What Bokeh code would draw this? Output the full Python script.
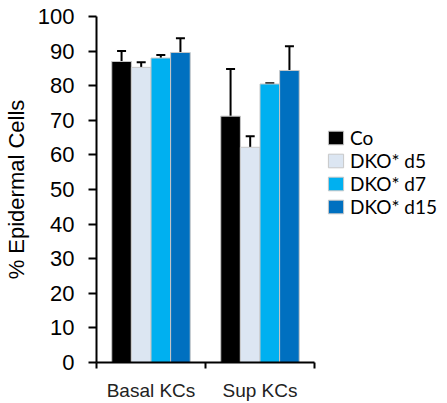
from bokeh.plotting import figure
from bokeh.models import ColumnDataSource, Whisker, TeeHead, FixedTicker, Legend, LegendItem, Range1d
from bokeh.embed import file_html
from bokeh.resources import INLINE
import numpy as np

categories = ["Basal KCs", "Sup KCs"]
series = ["Co", "DKO* d5", "DKO* d7", "DKO* d15"]
colors = ["#000000", "#DCE6F2", "#00B0F0", "#0070C0"]
co = [87.0, 71.2]
dko_d5 = [85.3, 62.2]
dko_d7 = [88.0, 80.5]
dko_d15 = [89.6, 84.4]
co_err = [3.0, 13.6]
dko_d5_err = [1.5, 3.2]
dko_d7_err = [0.9, 0.2]
dko_d15_err = [4.1, 7.0]

values = [co, dko_d5, dko_d7, dko_d15]
errors = [co_err, dko_d5_err, dko_d7_err, dko_d15_err]

W, H = 447, 403
left, top, bottom = 96, 16, 37
axis_px = 218  # pixel length of the category axis
frame_w = W - left
ncat = len(categories)

p = figure(width=W, height=H, output_backend="svg", toolbar_location=None,
           x_range=Range1d(0, ncat * frame_w / axis_px), y_range=Range1d(0, 100),
           min_border_left=left, min_border_top=top, min_border_right=0, min_border_bottom=bottom)
p.outline_line_color = None
p.grid.visible = False

bw = 0.18
centers = np.arange(ncat) + 0.5
items = []
for k, (name, vals, errs, col) in enumerate(zip(series, values, errors, colors)):
    xs = centers + (k - 1.5) * bw
    vals = np.array(vals)
    src = ColumnDataSource(dict(x=xs, top=vals, upper=vals + np.array(errs)))
    r = p.vbar(x="x", top="top", width=bw, source=src, fill_color=col,
               line_color="#c8c8c8", line_width=1)
    w = Whisker(source=src, base="x", lower="top", upper="upper", dimension="height",
                line_color="black", line_width=2,
                upper_head=TeeHead(size=9, line_color="black", line_width=2), lower_head=None)
    p.add_layout(w)
    items.append(LegendItem(label=name, renderers=[r]))

legend = Legend(items=items, location=(230, 144), glyph_width=19, glyph_height=17,
                label_height=17, spacing=0, padding=0, margin=0, label_standoff=5,
                border_line_color=None, background_fill_alpha=0,
                label_text_font="Lato", label_text_font_size="19px",
                label_text_color="black")
p.add_layout(legend)

# y axis
ya = p.yaxis[0]
ya.ticker = FixedTicker(ticks=list(range(0, 101, 10)))
ya.axis_line_width = 2
ya.major_tick_line_width = 2
ya.major_tick_out = 8
ya.major_tick_in = 0
ya.minor_tick_line_color = None
ya.major_label_standoff = 14
ya.major_label_text_font = "Liberation Sans"
ya.major_label_text_font_size = "22px"
ya.major_label_text_color = "black"
ya.axis_label = "% Epidermal Cells"
ya.axis_label_text_font = "Liberation Sans"
ya.axis_label_text_font_size = "22px"
ya.axis_label_text_font_style = "normal"
ya.axis_label_text_color = "black"
ya.axis_label_standoff = 6

# x axis
xa = p.xaxis[0]
xa.bounds = (0, ncat)
xa.ticker = FixedTicker(ticks=list(centers), minor_ticks=list(range(ncat + 1)))
xa.major_label_overrides = {float(c): cat for c, cat in zip(centers, categories)}
xa.axis_line_width = 2
xa.major_tick_line_color = None
xa.major_tick_out = 0
xa.major_tick_in = 0
xa.minor_tick_line_color = "black"
xa.minor_tick_line_width = 2
xa.minor_tick_out = 6
xa.minor_tick_in = 0
xa.major_label_standoff = 11
xa.major_label_text_font = "Liberation Sans"
xa.major_label_text_font_size = "19px"
xa.major_label_text_color = "#222222"

open("out.html", "w").write(file_html(p, INLINE))
